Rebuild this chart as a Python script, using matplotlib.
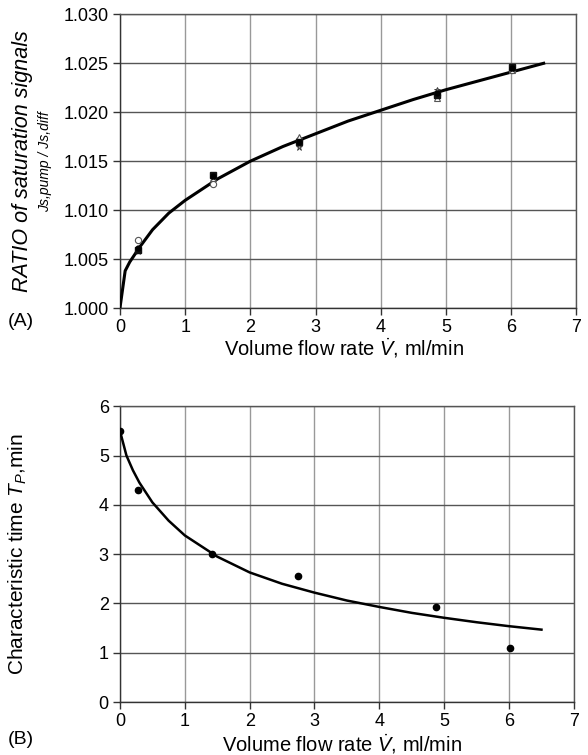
import matplotlib
matplotlib.use("Agg")
import matplotlib.pyplot as plt

plt.rcParams['font.family'] = ['Liberation Sans', 'DejaVu Sans']
plt.rcParams['mathtext.fontset'] = 'custom'
plt.rcParams['mathtext.rm'] = 'Liberation Sans'
plt.rcParams['mathtext.it'] = 'Liberation Sans:italic'

# Panel A: ratio of saturation signals vs flow rate
flow_a = [0.28, 1.42, 2.75, 4.87, 6.02]
ratio_open_circle = [1.0069, 1.0127, 1.0172, 1.0218, 1.0243]
ratio_square = [1.0059, 1.0136, 1.0170, 1.0218, 1.0246]
ratio_triangle = [1.0060, 1.0133, 1.0175, 1.0215, 1.0243]
ratio_star = [1.0058, 1.0134, 1.0165, 1.0223, 1.0244]
ratio_dot = [1.0061, 1.0135, 1.0170, 1.0220, 1.0245]

fit_a_x = [0, 0.08, 0.15, 0.3, 0.5, 0.75, 1.0, 1.5, 2.0, 2.5, 3.0, 3.5, 4.0, 4.5, 5.0, 5.5, 6.0, 6.5]
fit_a_y = [1.000, 1.0038, 1.0047, 1.0062, 1.0080, 1.0097, 1.0110, 1.0132, 1.0150, 1.0165,
           1.0178, 1.0191, 1.0202, 1.0213, 1.0223, 1.0232, 1.0241, 1.0250]

# Panel B: characteristic time vs flow rate
flow_b = [0.0, 0.28, 1.42, 2.75, 4.87, 6.02]
time_b = [5.5, 4.3, 3.0, 2.55, 1.93, 1.1]
fit_b_x = [0, 0.1, 0.2, 0.3, 0.5, 0.75, 1.0, 1.5, 2.0, 2.5, 3.0, 3.5, 4.0, 4.5, 5.0, 5.5, 6.0, 6.5]
fit_b_y = [5.5, 5.0, 4.7, 4.45, 4.05, 3.68, 3.38, 2.95, 2.63, 2.40, 2.22, 2.06, 1.93, 1.81,
           1.71, 1.62, 1.54, 1.47]

x_ticks = [0, 1, 2, 3, 4, 5, 6, 7]
y_ticks_a = [1.000, 1.005, 1.010, 1.015, 1.020, 1.025, 1.030]
y_ticks_b = [0, 1, 2, 3, 4, 5, 6]

fig = plt.figure(figsize=(5.88, 7.55), dpi=100)
ax1 = fig.add_axes([0.204, 0.592, 0.776, 0.389])
ax2 = fig.add_axes([0.204, 0.070, 0.772, 0.392])


def style(ax):
    ax.set_xlim(0, 7)
    ax.set_xticks(x_ticks)
    ax.grid(True, axis='x', color='#999999', lw=1.0)
    ax.grid(True, axis='y', color='#555555', lw=1.0)
    ax.set_axisbelow(True)
    for s in ax.spines.values():
        s.set_color('#555555')
        s.set_linewidth(1.0)
    ax.spines['left'].set_color('#333333')
    ax.spines['bottom'].set_color('#333333')
    ax.tick_params(direction='out', length=5, width=1, color='#333333',
                   labelsize=13, pad=3)


style(ax1)
ax1.set_ylim(1.000, 1.030)
ax1.set_yticks(y_ticks_a)
ax1.set_yticklabels([f"{v:.3f}" for v in y_ticks_a])
ax1.plot(fit_a_x, fit_a_y, color='black', lw=2.2, zorder=3)
ax1.plot(flow_a, ratio_open_circle, 'o', mfc='white', mec='#555555', ms=4.5, mew=0.8, ls='none', zorder=4)
ax1.plot(flow_a, ratio_triangle, '^', mfc='white', mec='#555555', ms=4.5, mew=0.8, ls='none', zorder=4)
ax1.plot(flow_a, ratio_star, '*', mfc='#888888', mec='#333333', ms=5, mew=0.6, ls='none', zorder=4)
ax1.plot(flow_a, ratio_square, 's', color='#111111', ms=4, ls='none', zorder=5)
ax1.plot(flow_a, ratio_dot, 'o', color='black', ms=3.5, ls='none', zorder=5)
ax1.set_xlabel(r"Volume flow rate $\dot{V}$, ml/min", fontsize=14.5)
ax1.xaxis.set_label_coords(0.49, -0.097)
ax1.set_ylabel("RATIO of saturation signals", fontsize=15.5, style='italic')
ax1.yaxis.set_label_coords(-0.19, 0.5)
ax1.text(-0.164, 0.5, "Js,pump / Js,diff", transform=ax1.transAxes, rotation=90,
         fontsize=10, style='italic', ha='center', va='center')
fig.text(0.013, 0.574, "(A)", fontsize=14, va='center')

style(ax2)
ax2.set_ylim(0, 6)
ax2.set_yticks(y_ticks_b)
ax2.plot(fit_b_x, fit_b_y, color='black', lw=1.8, zorder=3)
ax2.plot(flow_b, time_b, 'o', color='black', ms=4.5, ls='none', zorder=4)
ax2.set_xlabel(r"Volume flow rate $\dot{V}$, ml/min", fontsize=14.5)
ax2.xaxis.set_label_coords(0.49, -0.103)
ax2.set_ylabel(r"Characteristic time $T_P$,min", fontsize=15)
ax2.yaxis.set_label_coords(-0.20, 0.5)
fig.text(0.013, 0.020, "(B)", fontsize=14, va='center')

fig.savefig("out.png", dpi=100)
